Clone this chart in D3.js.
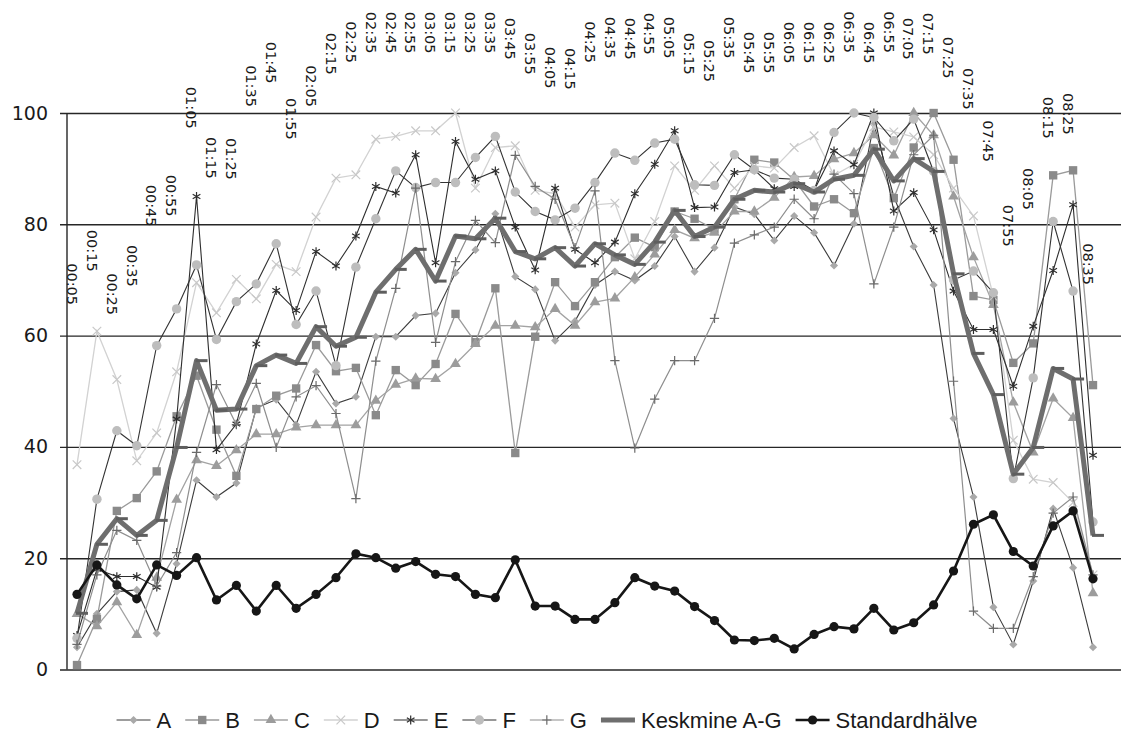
<!DOCTYPE html>
<html>
<head>
<meta charset="utf-8">
<script src="https://d3js.org/d3.v7.min.js"></script>
<style>
  body { margin: 0; background: #fff; }
  svg text { font-family: "DejaVu Sans", Verdana, sans-serif; fill: #1a1a1a; }
</style>
</head>
<body>
<div id="chart"></div>
<script>
// time of each measurement (10 min steps)
var times = ["00:05","00:15","00:25","00:35","00:45","00:55","01:05","01:15","01:25","01:35",
  "01:45","01:55","02:05","02:15","02:25","02:35","02:45","02:55","03:05","03:15",
  "03:25","03:35","03:45","03:55","04:05","04:15","04:25","04:35","04:45","04:55",
  "05:05","05:15","05:25","05:35","05:45","05:55","06:05","06:15","06:25","06:35",
  "06:45","06:55","07:05","07:15","07:25","07:35","07:45","07:55","08:05","08:15",
  "08:25","08:35"];

var serA = [4,10,14,14.3,6.5,19,34,31,33.5,47,48.5,44,53.5,47.8,49,59.8,59.8,63.6,64,71.3,
  75.4,81.9,70.6,68.3,59.1,62.6,69.1,71.5,69.9,72.5,77.8,71.5,75.8,83.1,81.8,77.1,81.5,78.5,72.6,80.1,
  98,85,76,69.1,45.1,31,11.2,4.5,15.9,28.9,18.3,4];
var serB = [0.8,9.1,28.5,30.8,35.6,45.5,52.8,43.1,34.8,46.8,49.2,50.5,58.3,53.6,54.2,45.7,53.8,51.1,54.9,63.9,
  58.8,68.5,38.9,59.8,69.6,65.3,69.6,74.1,77.6,75.9,82.3,81,79.1,84.5,91.6,91.1,88,83.2,84.5,82,
  93.7,84.7,93.8,100,91.6,67.1,66.4,55.1,58.6,88.8,89.7,51.1];
var serC = [10,7.8,12.1,6.2,16.5,30.5,37.6,36.6,39.4,42.3,42.3,43.5,43.9,43.9,43.9,48.3,51.2,52.3,52.2,54.9,
  58.5,61.8,61.8,61.5,64.8,61.8,66,66.7,70.5,74.6,79,77.5,78.5,82.3,82.3,84.8,88.5,88.7,91.7,92.8,
  96,92.4,100,96,85,74.1,65.5,48,39,48.7,45.2,13.7];
var serD = [36.8,60.8,52.1,37.5,42.5,53.5,69.5,64.1,70.1,66.6,72.8,71.5,81.3,88.3,88.9,95.3,95.8,96.8,96.8,100,
  86.5,93.8,94.1,86.1,85.5,79.5,83.5,83.8,73.8,80.5,90.5,86.1,90.5,86.5,90.5,90.1,93.8,95.9,88.8,90.8,
  97.5,96.6,95.7,92.5,86.5,81.5,67,41.2,34.2,33.6,30,17];
var serE = [6.1,18,16.7,16.7,14.8,45,85,39.5,44.1,58.5,68.1,64.5,75.1,72.5,77.9,86.8,85.6,92.5,73.1,94.9,
  88.1,89.6,79.5,71.8,86.5,75.5,73.1,76.8,85.5,90.8,96.8,83,83.1,89.3,89.8,86.4,86.8,86.1,93.2,90.7,
  100,82.4,85.7,79,68,61.1,61.1,50.9,61.7,71.7,83.5,38.5];
var serF = [5.6,30.6,42.9,40.2,58.2,64.8,72.7,59.3,66.1,69.3,76.5,62,68,54.6,72.3,81,89.6,86.6,87.5,87.5,
  92,95.8,85.8,82.3,80.8,82.9,87.5,92.8,91.5,94.6,95.3,87.1,87,92.5,89.8,88.3,88.1,86.1,96.5,100,
  99.2,95,98.9,89.5,70,71.6,67.7,34.3,52.4,80.5,68,26.5];
var serG = [4.5,17,25,23.2,15,21,39,51.2,44,51.4,39.9,49,51,46,30.7,55.4,68.5,86.5,58.8,73.3,
  80.7,76.7,92.4,86.8,84.5,75.8,86,55.5,39.8,48.6,55.5,55.5,63.1,76.6,78.1,79.5,84.5,81,89,85.5,
  69.3,79.5,92.5,96,51.8,10.5,7.4,7.4,16.7,28.1,31,17];
var keskmine = [10.1,22.5,27.1,24.1,26.8,39.9,55.5,46.6,46.8,54.6,56.5,55,61.6,58.1,59.7,67.8,71.9,75.5,69.8,77.9,
  77.4,81.1,75.1,73.8,75.8,72.5,76.5,74.5,72.8,76.8,82.5,77.8,79.5,84.5,86.1,85.8,87.3,85.8,88.1,88.8,
  93.5,87.8,91.8,89.5,71.1,56.8,49.4,35.1,39.9,54.1,52.2,24.1];
var standardhalve = [13.5,18.8,15.2,12.7,18.8,16.9,20.1,12.5,15.1,10.5,15.1,11,13.5,16.5,20.8,20.1,18.2,19.4,17.1,16.7,
  13.5,12.9,19.7,11.4,11.4,9,9,12,16.5,15,14.1,11.3,8.8,5.3,5.2,5.6,3.7,6.3,7.7,7.3,
  11,7.1,8.4,11.6,17.7,26.1,27.8,21.2,18.6,25.8,28.5,16.3];
// height (in value units) where each time label starts
var labelLevel = [73,79,71.2,76.3,87.1,88.9,104.7,95.7,95.5,108.6,112.8,102.7,108.6,114.4,116.5,118.2,118.2,118.2,118.2,118.2,
  118.2,118.2,117.1,114.4,111.9,111.7,116.5,117.3,117.1,118,117.3,114.4,113.1,117.3,114.6,114.6,116.4,116.4,116.4,118.3,
  116.4,118.3,117.1,118,113.7,108.1,98.7,83.5,90.1,102.9,103.6,76.6];
var yTicks = [0,20,40,60,80,100];

var W = 1121, H = 734;
var svg = d3.select("#chart").append("svg").attr("width", W).attr("height", H);

var x = d3.scalePoint().domain(times).range([77, 1093]);
var y = d3.scaleLinear().domain([0, 100]).range([669.5, 113]);

// gridlines + tick labels
var gAxis = svg.append("g").attr("transform", "translate(60,0)")
  .call(d3.axisLeft(y).tickValues(yTicks).tickSizeInner(-(W - 60)).tickSizeOuter(0).tickPadding(12));
gAxis.select(".domain").remove();
gAxis.selectAll(".tick line").attr("stroke", "#262626").attr("stroke-width", 1.4);
gAxis.selectAll(".tick text").style("font-size", "19px").attr("fill", "#1a1a1a");

svg.append("line").attr("x1", 67).attr("x2", 67).attr("y1", y(100)).attr("y2", y(0))
  .attr("stroke", "#262626").attr("stroke-width", 1.4);

var series = [
  {name: "A", values: serA, line: "#3c3c3c", lw: 1.1, sym: d3.symbolDiamond2, size: 42, fill: "#a9a9a9", stroke: null},
  {name: "B", values: serB, line: "#9a9a9a", lw: 1.3, sym: d3.symbolSquare, size: 70, fill: "#8a8a8a", stroke: null},
  {name: "C", values: serC, line: "#a3a3a3", lw: 1.3, sym: d3.symbolTriangle, size: 50, fill: "#9c9c9c", stroke: null},
  {name: "D", values: serD, line: "#d2d2d2", lw: 1.3, sym: d3.symbolTimes, size: 50, fill: "none", stroke: "#c8c8c8"},
  {name: "E", values: serE, line: "#2e2e2e", lw: 1.1, sym: d3.symbolAsterisk, size: 55, fill: "none", stroke: "#2e2e2e"},
  {name: "F", values: serF, line: "#333333", lw: 1.1, sym: d3.symbolCircle, size: 70, fill: "#bdbdbd", stroke: null},
  {name: "G", values: serG, line: "#8e8e8e", lw: 1.2, sym: d3.symbolPlus, size: 30, fill: "none", stroke: "#6a6a6a"}
];

var line = d3.line().x(function(d, i) { return x(times[i]); }).y(function(d) { return y(d); });

series.forEach(function(s) {
  var g = svg.append("g");
  g.append("path").attr("d", line(s.values)).attr("fill", "none")
    .attr("stroke", s.line).attr("stroke-width", s.lw);
  g.selectAll("path.m").data(s.values).enter().append("path").attr("class", "m")
    .attr("transform", function(d, i) { return "translate(" + x(times[i]) + "," + y(d) + ")"; })
    .attr("d", d3.symbol().type(s.sym).size(s.size))
    .attr("fill", s.fill)
    .attr("stroke", s.stroke || "none")
    .attr("stroke-width", s.stroke ? 1.2 : 0);
});

// average line
svg.append("path").attr("d", line(keskmine)).attr("fill", "none")
  .attr("stroke", "#6e6e6e").attr("stroke-width", 5).attr("stroke-linejoin", "round");
svg.selectAll("line.kd").data(keskmine).enter().append("line").attr("class", "kd")
  .attr("x1", function(d, i) { return x(times[i]) - 1; })
  .attr("x2", function(d, i) { return x(times[i]) + 11; })
  .attr("y1", function(d) { return y(d); }).attr("y2", function(d) { return y(d); })
  .attr("stroke", "#5e5e5e").attr("stroke-width", 3);

// standard deviation
svg.append("path").attr("d", line(standardhalve)).attr("fill", "none")
  .attr("stroke", "#161616").attr("stroke-width", 2.6);
svg.selectAll("circle.sd").data(standardhalve).enter().append("circle").attr("class", "sd")
  .attr("cx", function(d, i) { return x(times[i]); }).attr("cy", function(d) { return y(d); })
  .attr("r", 4.6).attr("fill", "#161616");

// rotated time labels
svg.selectAll("text.tl").data(times).enter().append("text").attr("class", "tl")
  .attr("transform", function(d, i) { return "translate(" + (x(d) - 5) + "," + y(labelLevel[i]) + ") rotate(90)"; })
  .attr("dy", "0.36em")
  .style("font-size", "14.5px")
  .text(function(d) { return d; });

// legend
var legendItems = series.map(function(s) { return {name: s.name, s: s}; });
legendItems.push({name: "Keskmine A-G", kind: "avg"});
legendItems.push({name: "Standardhälve", kind: "sd"});

var lg = svg.append("g");
var cx = 0, ly = 720;
legendItems.forEach(function(it) {
  var g = lg.append("g").attr("transform", "translate(" + cx + ",0)");
  if (it.kind === "avg") {
    g.append("line").attr("x1", 0).attr("x2", 34).attr("y1", ly).attr("y2", ly)
      .attr("stroke", "#6e6e6e").attr("stroke-width", 5);
  } else if (it.kind === "sd") {
    g.append("line").attr("x1", 0).attr("x2", 34).attr("y1", ly).attr("y2", ly)
      .attr("stroke", "#161616").attr("stroke-width", 2.6);
    g.append("circle").attr("cx", 17).attr("cy", ly).attr("r", 4.6).attr("fill", "#161616");
  } else {
    var s = it.s;
    g.append("line").attr("x1", 0).attr("x2", 34).attr("y1", ly).attr("y2", ly)
      .attr("stroke", s.line).attr("stroke-width", s.lw);
    g.append("path").attr("transform", "translate(17," + ly + ")")
      .attr("d", d3.symbol().type(s.sym).size(s.size))
      .attr("fill", s.fill).attr("stroke", s.stroke || "none").attr("stroke-width", s.stroke ? 1.2 : 0);
  }
  var t = g.append("text").attr("x", 40).attr("y", ly).attr("dy", "0.36em")
    .style("font-family", "'Liberation Sans', Arial, sans-serif")
    .style("font-size", "22px").text(it.name);
  cx += 40 + t.node().getComputedTextLength() + 14;
});
var totalW = cx - 14;
lg.attr("transform", "translate(" + (547 - totalW / 2) + ",0)");
</script>
</body>
</html>
